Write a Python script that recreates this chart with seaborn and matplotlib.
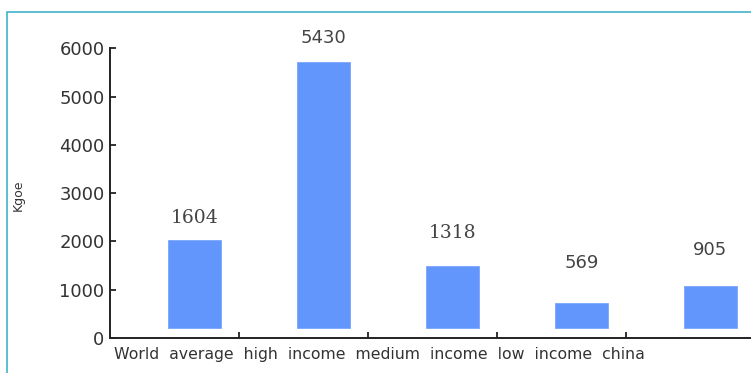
import matplotlib
matplotlib.use("Agg")
import matplotlib.pyplot as plt
import matplotlib.patches as mpatches
import seaborn as sns
import pandas as pd

# ---- data ----
categories = ["World average", "high income", "medium income", "low income", "china"]
label_values = [1604, 5430, 1318, 569, 905]          # printed numbers
bar_tops = [2030, 5710, 1490, 730, 1080]             # where the drawn bars end
bar_base = 200                                        # bars float above zero
label_y = [2484, 6205, 2180, 1547, 1822]              # where the numbers sit
label_serif = [True, False, True, False, False]
y_ticks = [0, 1000, 2000, 3000, 4000, 5000, 6000]
y_label = "Kgoe"

df = pd.DataFrame({
    "category": categories,
    "height": [t - bar_base for t in bar_tops],
})

sns.set_style("white")
plt.rcParams["font.family"] = ["DejaVu Sans"]

fig = plt.figure(figsize=(7.51, 3.73), dpi=100)
ax = fig.add_axes([110 / 751, 1 - 338 / 373, 1 - 110 / 751, (338 - 48.3) / 373])

sns.barplot(data=df, x="category", y="height", bottom=bar_base,
            color="#6396fc", saturation=1, width=0.41, ax=ax,
            edgecolor="#7aa6fc", linewidth=0.6)

for i, (v, ly, serif) in enumerate(zip(label_values, label_y, label_serif)):
    ax.text(i, ly, str(v), ha="center", va="center",
            fontsize=13.5 if serif else 13,
            family="DejaVu Serif" if serif else "DejaVu Sans",
            color="#444444")

ax.set_xlim(-0.655, 4.314)
ax.set_ylim(0, 6000)
ax.set_yticks(y_ticks)
ax.set_yticklabels([str(t) for t in y_ticks], fontsize=13, color="#333333")
ax.set_xticks([i + 0.345 for i in range(len(categories) - 1)])
ax.set_xticklabels([])
ax.tick_params(axis="y", direction="in", length=4, width=1.3, color="#222222", pad=4, left=True)
ax.tick_params(axis="x", direction="in", length=4, width=1.3, color="#222222", bottom=True)
ax.set_xlabel("")
ax.set_ylabel(y_label, fontsize=9, color="#333333")
ax.yaxis.set_label_coords(-0.133, 0.494)

for s in ["top", "right"]:
    ax.spines[s].set_visible(False)
for s in ["left", "bottom"]:
    ax.spines[s].set_color("#222222")
    ax.spines[s].set_linewidth(1.4)

# category names written as one running line under the axis
line_text = " ".join(categories).replace(" ", "  ")
fig.text(114 / 751, 1 - 355 / 373, line_text, ha="left", va="center",
         fontsize=11.3, color="#333333")

# teal frame
fig.patches.append(mpatches.Rectangle((7 / 751, -0.2), 2, 0.2 + 1 - 12 / 373,
                                      transform=fig.transFigure, fill=False,
                                      edgecolor="#40b4cc", linewidth=1.2, zorder=0))

fig.savefig("out.png", dpi=100)
